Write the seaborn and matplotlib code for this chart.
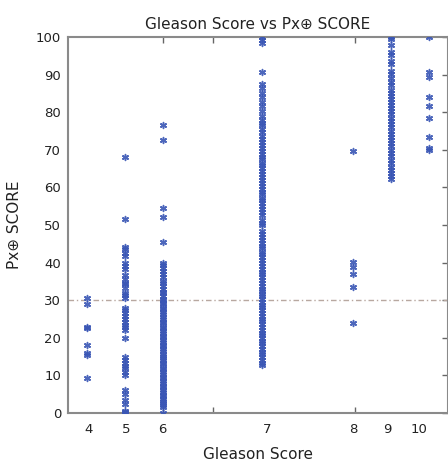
import matplotlib
matplotlib.use("Agg")
import matplotlib.pyplot as plt
import seaborn as sns
import pandas as pd

# ---- data ----
gleason = [4, 5, 6, 7, 8, 9, 10]
score_4 = [30.5, 29.0, 23.0, 22.5, 18.0, 16.0, 15.5, 9.3]
score_5 = [68.0, 51.5, 44.2, 43.5, 42.6, 41.8, 39.8, 39.0, 38.4, 36.6, 35.7, 34.6,
           34.3, 33.2, 31.8, 31.4, 30.5, 28.0, 27.5, 26.6, 25.7, 25.0, 24.3, 23.5,
           23.0, 22.0, 19.9, 15.0, 14.0, 13.2, 12.5, 12.0, 11.0, 10.2, 6.1, 5.0,
           3.5, 2.5, 0.6, 0.3, 0.0]
score_6 = [76.7, 72.6, 54.6, 52.0, 45.4, 40.0, 39.3, 38.6, 37.7, 36.9, 36.1, 35.0,
           34.6, 33.7, 33.1, 32.3, 31.8, 31.0, 30.4, 30.1, 29.3, 28.9, 28.0, 27.6,
           26.8, 26.3, 25.5, 25.1, 24.3, 23.9, 23.0, 22.6, 21.8, 21.4, 20.6, 20.1,
           19.3, 18.9, 18.1, 17.7, 16.9, 16.5, 15.7, 15.2, 14.5, 14.1, 13.3, 12.9,
           12.1, 11.7, 10.9, 10.4, 9.7, 9.3, 8.5, 8.0, 7.3, 6.9, 6.1, 5.6, 4.9,
           4.4, 3.7, 3.1, 2.6, 2.0, 1.6, 0.0]
score_7 = [100.0, 99.1, 98.3, 90.8, 87.6, 86.4, 85.1, 84.0, 82.7, 81.6, 80.2, 79.1,
           78.0, 77.2, 76.5, 75.4, 74.7, 73.6, 72.8, 72.1, 71.3, 70.4, 69.8, 69.0,
           68.1, 67.5, 66.6, 65.9, 65.1, 64.3, 63.5, 62.8, 62.0, 61.1, 60.5, 59.6,
           58.9, 58.2, 57.3, 56.6, 55.8, 55.0, 54.3, 53.4, 52.7, 51.3, 50.6, 49.9,
           48.3, 47.5, 46.8, 46.0, 45.3, 44.4, 43.8, 42.9, 42.2, 41.5, 40.6, 39.9,
           39.1, 38.4, 37.6, 36.9, 36.1, 35.4, 34.6, 33.9, 33.1, 32.5, 31.7, 31.0,
           30.3, 29.6, 28.8, 28.1, 27.3, 26.6, 25.8, 25.1, 24.4, 23.6, 22.9, 22.1,
           21.4, 20.7, 19.9, 19.2, 18.5, 17.7, 17.0, 16.3, 15.6, 14.8, 14.1, 13.4,
           12.8]
score_8 = [69.8, 40.2, 38.7, 36.9, 33.4, 23.9]
score_9 = [100.0, 99.5, 97.8, 96.0, 95.2, 93.5, 92.8, 91.0, 90.2, 89.0, 88.1, 87.3,
           86.0, 85.2, 84.4, 83.5, 82.8, 81.9, 81.0, 80.2, 79.4, 78.5, 77.6, 76.8,
           76.0, 75.1, 74.2, 73.5, 72.6, 71.8, 70.9, 70.0, 69.1, 68.3, 67.2, 66.5,
           65.4, 64.6, 63.8, 63.0, 62.3]
score_10 = [100.0, 90.6, 89.3, 84.1, 81.6, 78.5, 73.5, 70.6, 70.0]
threshold = 30
y_ticks = [0, 10, 20, 30, 40, 50, 60, 70, 80, 90, 100]

scores = [score_4, score_5, score_6, score_7, score_8, score_9, score_10]
rows = [(g, s) for g, vals in zip(gleason, scores) for s in vals]
df = pd.DataFrame(rows, columns=["gleason", "score"])

# ---- layout: non-uniform axis positions of the categories ----
pos = {4: 4.0, 5: 5.0, 6: 6.0, 7: 8.6, 8: 11.0, 9: 12.0, 10: 13.0}
label_pos = [4.05, 5.03, 5.97, 8.74, 11.0, 11.89, 12.74]
df["xpos"] = df["gleason"].map(pos)

sns.set_theme(style="white")
plt.rcParams["font.family"] = ["DejaVu Sans"]

fig = plt.figure(figsize=(4.48, 4.61), dpi=100)
ax = fig.add_axes([68 / 448, 1 - 413 / 461, 380 / 448, 376 / 461])

ax.axhline(threshold, color="#b8a8a0", lw=1.0, ls=(0, (4, 2, 1, 2)), zorder=1)

sns.scatterplot(data=df, x="xpos", y="score", ax=ax, marker=(6, 2, 0),
                s=18, color="#3a56b5", linewidth=1.1, edgecolor="#3a56b5",
                alpha=0.9, zorder=3, legend=False)

ax.set_xlim(3.5, 13.5)
ax.set_ylim(0, 100)

ax.set_xticks(label_pos)
ax.set_xticklabels([str(g) for g in gleason])
ax.set_xticks([6.0, 7.316, 11.05], minor=True)
ax.tick_params(axis="x", which="major", length=0, pad=7, labelsize=9.5, colors="#222222")
ax.tick_params(axis="x", which="minor", direction="in", length=4, width=1,
               color="#666666", top=True, bottom=True)

ax.set_yticks(y_ticks)
ax.tick_params(axis="y", which="major", direction="in", length=4, width=1,
               color="#666666", left=False, right=True, labelleft=True,
               labelsize=9.5, labelcolor="#222222", pad=5)

for s in ax.spines.values():
    s.set_color("#8a8a8a")
    s.set_linewidth(1.5)

ax.set_xlabel("Gleason Score", fontsize=11, color="#222222", labelpad=8)
ax.set_ylabel("Px\u2295 SCORE", fontsize=11, color="#222222", labelpad=10)
ax.set_title("Gleason Score vs Px\u2295 SCORE", fontsize=11, color="#222222", pad=6)

fig.savefig("out.png", dpi=100)
